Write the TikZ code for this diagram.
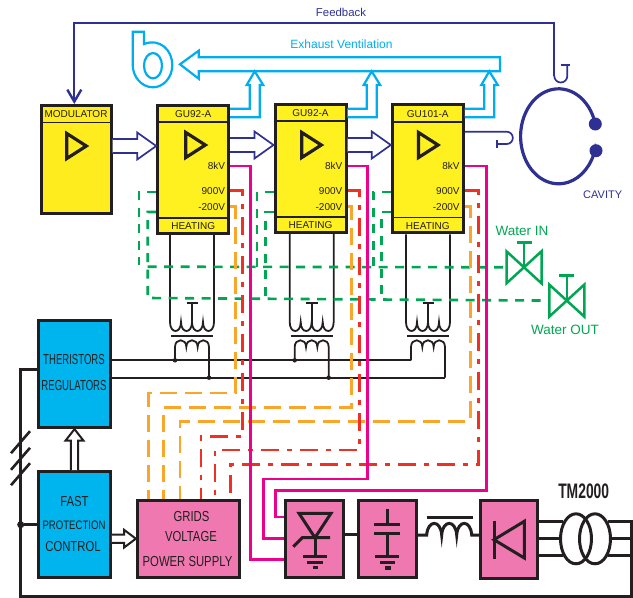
\documentclass[tikz,border=0pt]{standalone}
\usepackage{fontspec}
\setmainfont{Liberation Sans}
\newfontfamily\narrowfont[FakeStretch=0.78]{Liberation Sans}
\newfontfamily\narrowerfont[FakeStretch=0.66]{Liberation Sans}
\usepackage{xcolor}
\usepackage{tikz}
\usetikzlibrary{arrows.meta, calc, shapes.geometric}

\definecolor{tubeyellow}{HTML}{FFF01F}
\definecolor{ctrlblue}{HTML}{00B4EE}
\definecolor{supplypink}{HTML}{EE78AF}
\definecolor{ink}{HTML}{231F20}
\definecolor{navyline}{HTML}{2E3192}
\definecolor{ventcyan}{HTML}{00AEEF}
\definecolor{watergreen}{HTML}{00A651}
\definecolor{hvpink}{HTML}{EC008C}
\definecolor{gridorange}{HTML}{F9A62B}
\definecolor{gridred}{HTML}{EE3124}

\newcommand{\fs}[1]{\fontsize{#1}{#1}\selectfont}

\begin{document}
\begin{tikzpicture}[
    x=1pt, y=-1pt,
    tube/.style={draw=ink, line width=3pt, fill=tubeyellow, minimum width=71pt, minimum height=128pt, inner sep=0pt},
    amp/.style={draw=ink, line width=3.2pt, isosceles triangle, isosceles triangle stretches, minimum width=25pt, minimum height=19.5pt, inner sep=0pt, anchor=apex},
    tubetext/.style={text=ink, inner sep=0pt, font=\fs{10}},
    ctrlbox/.style={draw=ink, line width=3pt, fill=ctrlblue, minimum width=71.7pt, inner sep=0pt},
    supplybox/.style={draw=ink, line width=3pt, fill=supplypink, inner sep=0pt, minimum height=77.5pt},
    boxtext/.style={text=ink, inner sep=0pt, font=\fs{14.5}\narrowfont},
    wire/.style={draw=ink, line width=1.8pt},
    power/.style={draw=ink, line width=3pt},
    dot/.style={circle, fill=ink, inner sep=0pt, minimum size=4.5pt},
    fbline/.style={draw=navyline, line width=1.7pt},
    vent/.style={draw=ventcyan, line width=2.2pt, fill=white},
    water/.style={draw=watergreen, line width=2.6pt, dash pattern=on 9pt off 7.5pt},
    valve/.style={draw=watergreen, line width=2.5pt},
    hvline/.style={draw=hvpink, line width=2.5pt},
    gridline/.style={draw=gridorange, line width=2.7pt, dash pattern=on 17pt off 8pt},
    heatline/.style={draw=gridred, line width=2.7pt, dash pattern=on 18pt off 8pt on 5pt off 8pt},
    hollowh/.style n args={3}{fill=white, to path={let \p1=(\tikztostart), \p2=(\tikztotarget) in
        (\x1,\y1+#1) -- (\x2-#2,\y1+#1) -- (\x2-#2,\y1+#3) -- (\x2,\y1) -- (\x2-#2,\y1-#3) -- (\x2-#2,\y1-#1) -- (\x1,\y1-#1)}},
    hollowv/.style n args={3}{fill=white, to path={let \p1=(\tikztostart), \p2=(\tikztotarget) in
        (\x1-#1,\y1) -- (\x1-#1,\y2-#2) -- (\x1-#3,\y2-#2) -- (\x1,\y2) -- (\x1+#3,\y2-#2) -- (\x1+#1,\y2-#2) -- (\x1+#1,\y1)}}
]
    \useasboundingbox (0,0) rectangle (633,598);

    % tubes
    \node[tube, fill=tubeyellow!96!orange, minimum width=70pt, minimum height=108pt] (mod) at (76,159.5) {};
    \node[tube] (gu1) at (193.2,169.1) {};
    \node[tube] (gu2) at (310.5,168.2) {};
    \node[tube] (gu3) at (427.8,168.8) {};

    \draw[draw=ink, line width=1.9pt] ([yshift=-18.5pt]mod.north west) -- ([yshift=-18.5pt]mod.north east);
    \node[tubetext] (modname) at ([yshift=-10pt]mod.north) {MODULATOR};
    \node[amp] (modamp) at (90.5,146) {};

    \foreach \t/\txt/\tip in {gu1/GU92-A/209.5, gu2/GU92-A/325.5, gu3/GU101-A/442.2} {
        \draw[draw=ink, line width=1.9pt] ([yshift=-18.5pt]\t.north west) -- ([yshift=-18.5pt]\t.north east);
        \draw[draw=ink, line width=1.9pt] ([yshift=16.8pt]\t.south west) -- ([yshift=16.8pt]\t.south east);
        \node[tubetext] (\t-name) at ([yshift=-10.5pt]\t.north) {\txt};
        \node[tubetext] (\t-heat) at ([yshift=8.5pt]\t.south) {HEATING};
        \node[tubetext, anchor=east] (\t-kv) at ([xshift=-5pt]\t.east |- 0,166) {8kV};
        \node[tubetext, anchor=east] (\t-gv) at ([xshift=-5pt]\t.east |- 0,190.8) {900V};
        \node[tubetext, anchor=east] (\t-nv) at ([xshift=-5pt]\t.east |- 0,206.8) {-200V};
        \node[amp] (\t-amp) at (\tip,145) {};
    }

    % control and supply boxes
    \node[ctrlbox, minimum height=106.7pt] (therist) at (74.5,374.3) {};
    \node[ctrlbox, minimum height=106pt]   (fast)    at (74.5,524.6) {};
    \node[supplybox, minimum width=102.3pt] (grids) at (188.5,539) {};
    \node[supplybox, minimum width=58pt]    (rect)  at (314.6,539) {};
    \node[supplybox, minimum width=57.7pt]  (caps)  at (387.5,539) {};
    \node[supplybox, minimum width=57.3pt]  (diode) at (509,539.5) {};

    \node[boxtext, font=\fs{14.5}\narrowerfont] (t1) at (74,360) {THERISTORS};
    \node[boxtext, font=\fs{14.5}\narrowerfont] (t2) at (74,386) {REGULATORS};
    \node[boxtext] (f1) at (74.5,501.5) {FAST};
    \node[boxtext, font=\fs{12.3}\narrowfont] (f2) at (74,525) {PROTECTION};
    \node[boxtext] (f3) at (73,547) {CONTROL};
    \node[boxtext] (g1) at (191.5,517) {GRIDS};
    \node[boxtext] (g2) at (191,537) {VOLTAGE};
    \node[boxtext] (g3) at (187.5,562) {POWER SUPPLY};

    % feedback and coupling
    \node[tubetext, text=navyline, font=\fs{11.4}] (fbtext) at (341,12) {Feedback};
    \node[tubetext, text=ventcyan, font=\fs{12}] (venttext) at (341.5,44) {Exhaust Ventilation};
    \node[tubetext, text=navyline, font=\fs{11}] (cavtext) at (602.7,195) {CAVITY};
    \draw[fbline, -{Straight Barb[length=12pt,width=14pt,line width=2.4pt]}] (554.3,76) -- (554.3,22.7) -| ([xshift=-1.7pt]mod.north);
    \draw[fbline] (554.3,76) arc[start angle=180, end angle=360, radius=6.5pt] -- (567.3,65);
    \draw[fbline] (560.7,65) -- (570,65);
    \draw[fbline] (gu3.east |- 0,131.7) -- (506.7,131.7) arc[start angle=90, end angle=-90, radius=6.15pt] -- (496.7,144);
    \draw[fbline] (496.7,139.7) -- (496.7,147.5);

    \node[circle, fill=navyline, inner sep=0pt, minimum size=13pt] (cavtop) at (595.3,124) {};
    \node[circle, fill=navyline, inner sep=0pt, minimum size=13pt] (cavbot) at (596,150.7) {};
    \draw[draw=navyline, line width=3.2pt] (cavtop.center) arc[start angle=15, end angle=345, x radius=38pt, y radius=47.5pt] -- (cavbot.center);

    % drive arrows
    \draw[fbline, hollowh={7pt}{19pt}{13.5pt}] (mod.east |- modamp.center) to (gu1.west |- modamp.center);
    \draw[fbline, hollowh={7pt}{19pt}{13.5pt}] (gu1.east |- gu1-amp.center) to (gu2.west |- gu1-amp.center);
    \draw[fbline, hollowh={7pt}{19pt}{13.5pt}] (gu2.east |- gu2-amp.center) to (gu3.west |- gu2-amp.center);

    % ventilation
    \draw[vent] (132.7,31.7) -- (144,31.7) -- (144,44) .. controls (160,38) and (172.3,50) .. (172.3,65)
        .. controls (172.3,78) and (163,87.3) .. (153,87.3) .. controls (141,87.3) and (132.7,76) .. (132.7,65) -- cycle;
    \node[draw=ventcyan, line width=2.2pt, ellipse, fill=white, minimum width=18pt, minimum height=25.4pt, inner sep=0pt] (fanhub) at (153,65.7) {};
    \draw[vent] (180,64.3) -- (198.7,50.7) -- (198.7,57.3) -- (500,57.3) -- (500,71.3) -- (198.7,71.3) -- (198.7,78.7) -- cycle;
    \foreach \t/\x in {gu1/254.7, gu2/371.7, gu3/489.3}
        \draw[vent] (\t.east |- 0,117.3) -| ({\x+5},85) -- ({\x+8.5},85) -- (\x,71.3) -- ({\x-8},85) -- ({\x-5},85) |- (\t.east |- 0,108.7);

    % heating transformers
    \foreach \t/\n/\dx in {gu1/1/0, gu2/2/119.7, gu3/3/236} {
        \begin{scope}[shift={(\dx,0)}]
            \coordinate (coilL\n) at (175,360.3);
            \coordinate (coilR\n) at (209,377.7);
            \draw[wire] (170,0 |- \t.south) -- (170,322)
                foreach \i in {1,2,3,4} { .. controls +(0,12) and +(0,12) .. ++(11,0) }
                -- (214,0 |- \t.south);
            \draw[wire] (192,303.3) -- (192,327);
            \draw[wire] (186.5,303.3) -- (198,303.3);
            \draw[wire, line width=2pt] (171,336) -- (213,336);
            \draw[wire] (coilL\n) -- (175,347)
                foreach \i in {1,2,3} { .. controls +(0,-9) and +(0,-9) .. ++(11.33,0) }
                -- (coilR\n);
        \end{scope}
    }
    \node[dot] (d1) at (coilL1) {};
    \node[dot] (d2) at (coilR1) {};
    \node[dot] (d3) at (coilL2) {};
    \node[dot] (d4) at (coilR2) {};
    \draw[wire] (therist.east |- coilL1) -- (coilL3);
    \draw[wire] (therist.east |- coilR1) -- (coilR3);

    % cooling water
    \foreach \v/\x/\y in {vin/524/267.3, vout/566.8/300.6} {
        \begin{scope}[shift={(\x,\y)}]
            \coordinate (\v-left) at (-17.5,0);
            \draw[valve] (-17.5,-16) -- (17.5,16) -- (17.5,-16) -- (-17.5,16) -- cycle;
            \draw[valve] (0,0) -- (0,-25);
            \draw[valve] (-7.5,-25) -- (7.5,-25);
        \end{scope}
    }
    \node[tubetext, text=watergreen, font=\fs{13.5}] (wintext) at (522,230.7) {Water IN};
    \node[tubetext, text=watergreen, font=\fs{13.5}] (wouttext) at (565,329.7) {Water OUT};
    \draw[water] (gu1.west |- 0,192) -| (139,265);
    \draw[water] (gu1.west |- 0,212) -| (147.7,298) -- (vout-left);
    \draw[water] (147.7,266.7) -- (vin-left);
    \draw[water] (gu2.west |- 0,192) -| (257,266.7);
    \draw[water] (gu2.west |- 0,212) -| (265.7,298);
    \draw[water] (gu3.west |- 0,192) -| (373.3,266.7);
    \draw[water] (gu3.west |- 0,212) -| (381.7,298);

    % grid supply lines
    \draw[gridline] (gu1.east |- gu1-nv) -| (235.3,393) -| (148.7,0 |- grids.north);
    \draw[gridline] (gu2.east |- gu2-nv) -| (351.7,407.3) -| (163.7,0 |- grids.north);
    \draw[gridline] (gu3.east |- gu3-nv) -| (470.3,421.3) -| (180,0 |- grids.north);
    \draw[heatline] (gu1.east |- gu1-gv) -| (242.7,436.3) -| (201,0 |- grids.north);
    \draw[heatline] (gu2.east |- gu2-gv) -| (359.3,450) -| (215,0 |- grids.north);
    \draw[heatline] (gu3.east |- gu3-gv) -| (478.7,464.7) -| (230.7,0 |- grids.north);

    % 8kV lines
    \draw[hvline] (gu1.east |- gu1-kv) -| (250.7,559.7) -- (rect.west |- 0,559.7);
    \draw[hvline] (gu2.east |- gu2-kv) -| (367.7,479) -| (263.3,538.7) -- (rect.west |- 0,538.7);
    \draw[hvline] (gu3.east |- gu3-kv) -| (486.7,490.7) -| (275.7,517) -- (rect.west |- 0,517);

    % control wiring
    \draw[draw=ink, line width=2pt, hollowv={3.7pt}{11.5pt}{9pt}] (fast.north) to (therist.south);
    \draw[draw=ink, line width=2pt, hollowh={4.2pt}{11.7pt}{8.8pt}] (fast.east |- 0,538.7) to (grids.west |- 0,538.7);
    \node[dot, minimum size=7pt] (fastdot) at (20.7,524.7) {};
    \draw[power] (fastdot) -- (fast.west |- fastdot);
    \coordinate (slash1) at (20.5,442.2);
    \coordinate (slash2) at (20.5,458.8);
    \coordinate (slash3) at (20.5,474.2);
    \foreach \s in {slash1, slash2, slash3}
        \draw[power, line width=2.6pt] ([shift={(-9.5,11)}]\s) -- ([shift={(9.5,-11)}]\s);

    % rectifier symbols
    \draw[power] (299,513.3) -- (331,513.3) -- (315,537.7) -- cycle;
    \draw[power] (293.3,546.7) -- (302.3,537.7) -- (330,537.7);
    \draw[power] (315,537.7) -- (315,556.7);
    \draw[power] (303.3,556.7) -- (326.7,556.7);
    \draw[power] (307.3,562) -- (323.3,562);
    \draw[power, line width=3.5pt] (312.7,567.7) -- (318.3,567.7);
    % capacitor symbols
    \draw[power] (387.7,508.7) -- (387.7,524.7);
    \draw[power] (374,524.7) -- (400,524.7);
    \draw[power] (374,533) -- (400,533);
    \draw[power] (387.7,533) -- (387.7,556.3);
    \draw[power] (375,556.3) -- (399.3,556.3);
    \draw[power] (380,562) -- (395,562);
    \draw[power, line width=3.5pt] (385,568) -- (390.7,568);
    % diode symbols
    \draw[power] (494,520.7) -- (494,559);
    \draw[power] (494,539.7) -- (524.3,521.3) -- (524.3,558) -- cycle;

    % power chain
    \draw[power] (rect.east |- 0,534.5) -- (caps.west |- 0,534.5);
    \draw[power] (caps.east |- 0,535) -- (426.7,535)
        foreach \i in {1,2,3} { .. controls +(1,-15.5) and +(-1,-15.5) .. ++(15,0) }
        -- (diode.west |- 0,535);
    \draw[power] (426.7,517) -- (472.7,517);

    \node[draw=ink, line width=3pt, ellipse, minimum width=31pt, minimum height=50pt, inner sep=0pt] (tml) at (576,538.8) {};
    \node[draw=ink, line width=3pt, ellipse, minimum width=31pt, minimum height=50pt, inner sep=0pt] (tmr) at (595,538.8) {};
    \node[tubetext, font=\fs{21}\narrowerfont\bfseries] (tmname) at (583.7,491) {TM2000};
    \draw[power] (diode.east |- tml.128) -- (tml.128);
    \draw[power] (diode.east |- tml.west) -- (tml.west);
    \draw[power] (diode.east |- tml.232) -- (tml.232);
    \coordinate (bus) at (631,538.8);
    \draw[power] (tmr.east) -- (bus);
    \draw[power] (tmr.-52) -- (bus |- tmr.-52);
    \draw[power] (tmr.52) -| (bus) |- (20.7,596.3) |- (therist.west |- 0,369.3);
\end{tikzpicture}
\end{document}
